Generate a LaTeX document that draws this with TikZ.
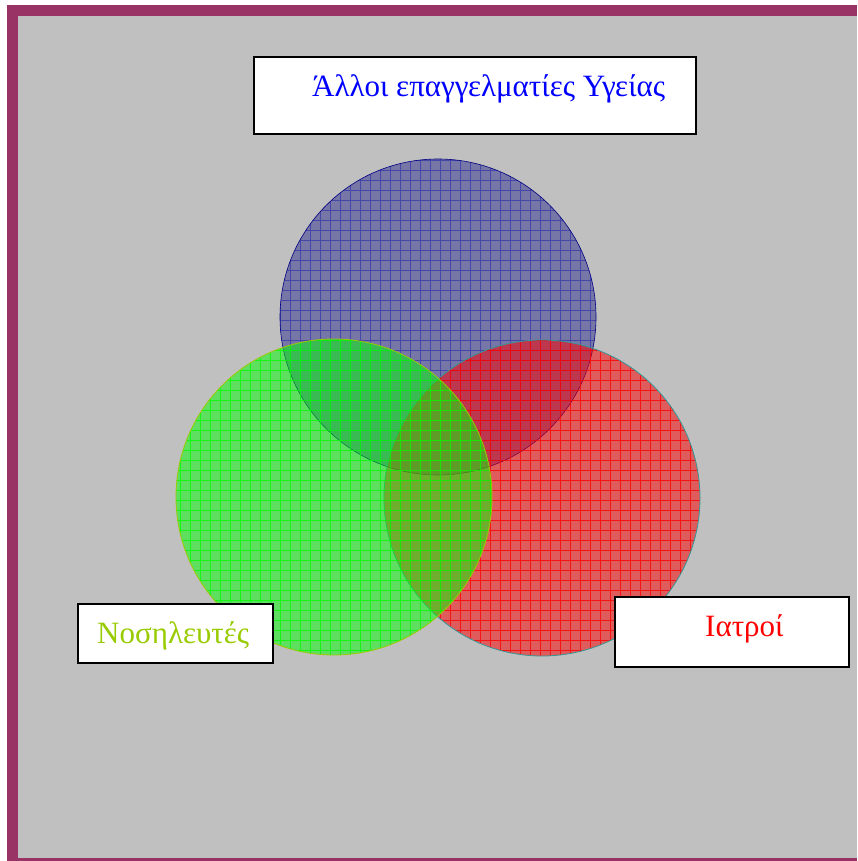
\documentclass[tikz,border=0pt]{standalone}
\usepackage{fontspec}
\setmainfont{Liberation Serif}
\begin{document}
\begin{tikzpicture}[x=1pt,y=-1pt,
  labelbox/.style={draw=black,line width=2pt,fill=white,minimum height=#1,inner sep=0pt},
  lbl/.style={font=\fontsize{31}{33}\selectfont,anchor=base west,inner sep=0pt}]
\definecolor{frame}{HTML}{993366}
\definecolor{bg}{HTML}{C0C0C0}
\definecolor{navyc}{HTML}{000080}
\definecolor{gridb}{HTML}{3333AA}
\definecolor{lime}{HTML}{99CC00}
\definecolor{tealc}{HTML}{339999}
\useasboundingbox (0,0) rectangle (857,861);
\fill[white] (0,0) rectangle (857,861);
\fill[frame] (7,5) rectangle (857,861);
\fill[bg] (18,16) rectangle (857,858);
\coordinate (cb) at (438,317);
\coordinate (cg) at (334,497);
\coordinate (cr) at (542,498);
% blue circle
\fill[navyc,opacity=0.38] (cb) circle[radius=158];
\begin{scope}
\clip (cb) circle[radius=158];
\draw[gridb,line width=0.9pt,opacity=0.7,step=10pt] (270,150) grid (610,480);
\end{scope}
\draw[navyc,line width=0.6pt] (cb) circle[radius=158];
% red circle
\fill[red,opacity=0.52] (cr) circle[radius=158];
\begin{scope}
\clip (cr) circle[radius=158];
\draw[red,line width=0.9pt,opacity=0.8,step=10pt] (380,330) grid (710,660);
\end{scope}
\draw[tealc,line width=0.8pt] (cr) circle[radius=158];
% green circle
\fill[green,opacity=0.5] (cg) circle[radius=158];
\begin{scope}
\clip (cg) circle[radius=158];
\draw[green,line width=0.9pt,opacity=0.8,step=10pt] (170,330) grid (500,660);
\end{scope}
\draw[lime,line width=0.8pt] (cg) circle[radius=158];
% label boxes
\node[labelbox=77pt,minimum width=442pt,anchor=north west] (bt) at (253,56) {};
\node[labelbox=59pt,minimum width=195pt,anchor=north west] (bn) at (77,603) {};
\node[labelbox=70pt,minimum width=234pt,anchor=north west] (bi) at (614,596) {};
\node[lbl,text=blue] (tt) at (312,97) {Άλλοι επαγγελματίες Υγείας};
\node[lbl,text=lime] (tn) at (97,643) {Νοσηλευτές};
\node[lbl,text=red] (ti) at (705,636) {Ιατροί};
\end{tikzpicture}
\end{document}
